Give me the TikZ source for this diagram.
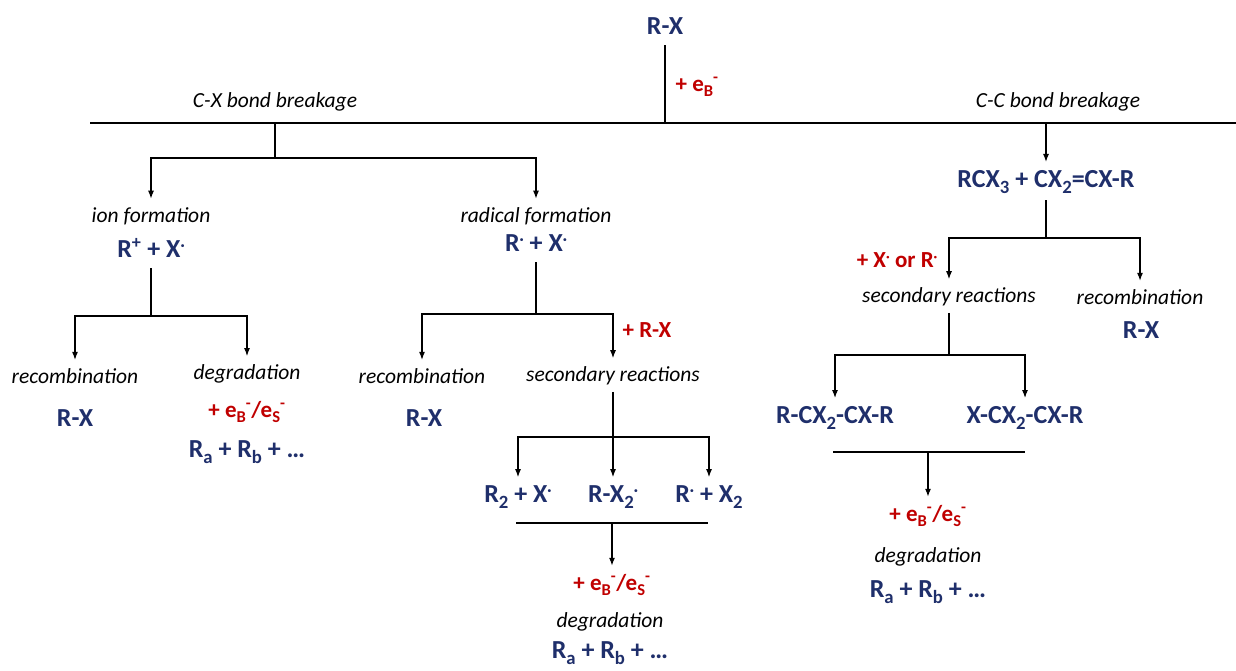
\documentclass[tikz,border=0pt]{standalone}
\usepackage{fontspec}
\setmainfont{Carlito}
\usetikzlibrary{arrows.meta}
\definecolor{navy}{HTML}{1F2F6B}
\definecolor{dred}{HTML}{C00000}
\newcommand{\rdot}{\raisebox{0.55ex}{\scalebox{0.6}{·}}}
\newcommand{\sbs}[1]{\raisebox{-0.45ex}{\scalebox{0.72}{#1}}}
\newcommand{\eBS}{+ e\sbs{B}\textsuperscript{-}/e\sbs{S}\textsuperscript{-}}
\newcommand{\Rab}{R\sbs{a} + R\sbs{b} + \textellipsis}
\begin{document}
\begin{tikzpicture}
[x=1pt,y=-1pt,line width=1.2pt,
m/.style={font=\fontsize{26}{30}\selectfont\bfseries,text=navy,inner sep=2pt},
r/.style={font=\fontsize{23}{27}\selectfont\bfseries,text=dred,inner sep=2pt},
t/.style={font=\fontsize{21.5}{25}\selectfont\itshape,inner sep=2pt},
a/.style={-{Latex[length=8pt,width=6pt]},shorten >=6pt}]
\useasboundingbox (0,0) rectangle (1236,671);
% top
\node(rx) at (665,26)[m]{R-X};\node(eb) at (673,87)[r,anchor=west]{+ e\sbs{B}\textsuperscript{-}};
\coordinate(ml) at (90,123);\coordinate(mr) at (1236,123);\coordinate(top) at (665,123);
\node(cx) at (275,102)[t]{C-X bond breakage};\node(cc) at (1058,102)[t]{C-C bond breakage};
\draw[shorten <=8pt](rx)--(top);\draw(ml)--(mr);
% C-X bond breakage
\coordinate(j1) at (275,123);\coordinate(k1) at (275,158);
\node(ion) at (151,216)[t]{ion formation};\node(rp) at (151,248)[m]{R\textsuperscript{+} + X\rdot};
\node(rad) at (536,216)[t]{radical formation};\node(rr) at (536,243)[m]{R\rdot{} + X\rdot};
\draw(j1)--(k1);\draw[a](k1)-|(ion);\draw[a](k1)-|(rad);
% ion formation
\coordinate(k2) at (151,316);
\node(rc1) at (75,376)[t]{recombination};\node(rx1) at (75,418)[m]{R-X};
\node(dg1) at (247,374)[t]{degradation};\node(e1) at (247,412)[r]{\eBS};
\node(ra1) at (247,452)[m]{\Rab};
\draw[shorten <=8pt](rp)--(k2);\draw[a](k2)-|(rc1);\draw[a](k2)-|(dg1);
% radical formation
\coordinate(k3) at (536,314);
\node(rc2) at (422,376)[t]{recombination};\node(rx2) at (424,418)[m]{R-X};
\node(sr1) at (613,376)[t]{secondary reactions};\node(erx) at (620,330)[r,anchor=west]{+ R-X};
\draw[shorten <=8pt](rr)--(k3);\draw[a](k3)-|(rc2);\draw[a](k3)-|(sr1);
\coordinate(k4) at (613,437);
\node(p1) at (518,497)[m]{R\sbs{2} + X\rdot};
\node(p2) at (613,497)[m]{R-X\sbs{2}\rdot};
\node(p3) at (709,497)[m]{R\rdot{} + X\sbs{2}};
\draw[shorten <=4pt](sr1)--(k4);\draw[a](k4)--(p2);\draw[a](k4)-|(p1);\draw[a](k4)-|(p3);
\coordinate(l1) at (516,523);\coordinate(l2) at (708,523);\coordinate(k5) at (612,523);
\node(e2) at (612,585)[r]{\eBS};\node(dg2) at (610,622)[t]{degradation};
\node(ra2) at (610,653)[m]{\Rab};
\draw(l1)--(l2);\draw[a](k5)--(e2);
% C-C bond breakage
\coordinate(j2) at (1046,123);
\node(rcx) at (1046,182)[m]{RCX\sbs{3} + CX\sbs{2}=CX-R};
\draw[a](j2)--(rcx);
\coordinate(k6) at (1046,238);
\node(sr2) at (949,297)[t]{secondary reactions};\node(rc3) at (1140,297)[t]{recombination};
\node(rx3) at (1141,330)[m]{R-X};\node(exr) at (940,260)[r,anchor=east]{+ X\rdot{} or R\rdot};
\draw[shorten <=4pt](rcx)--(k6);\draw[a](k6)-|(sr2);\draw[a](k6)-|(rc3);
\coordinate(k7) at (949,355);
\node(q1) at (835,418)[m]{R-CX\sbs{2}-CX-R};\node(q2) at (1025,418)[m]{X-CX\sbs{2}-CX-R};
\draw[shorten <=4pt](sr2)--(k7);\draw[a](k7)-|(q1);\draw[a](k7)-|(q2);
\coordinate(l3) at (833,452);\coordinate(l4) at (1025,452);\coordinate(k8) at (928,452);
\node(e3) at (928,516)[r]{\eBS};\node(dg3) at (928,557)[t]{degradation};
\node(ra3) at (928,592)[m]{\Rab};
\draw(l3)--(l4);\draw[a](k8)--(e3);
\end{tikzpicture}
\end{document}
